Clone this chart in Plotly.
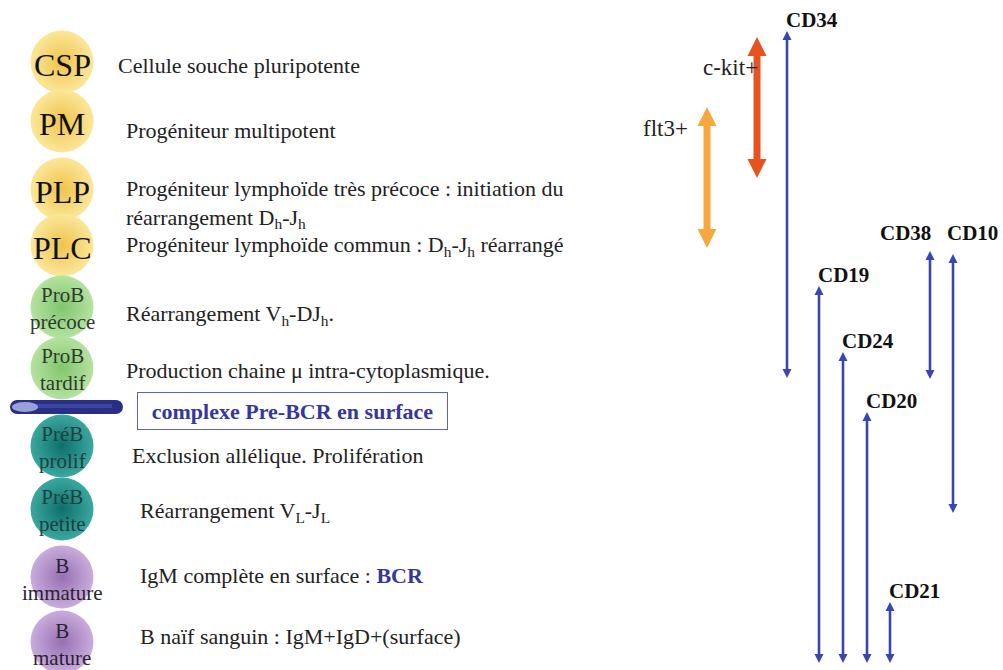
import plotly.graph_objects as go

# ---------------- data ----------------
stage_names = ["CSP", "PM", "PLP", "PLC", "ProB<br>précoce", "ProB<br>tardif",
               "PréB<br>prolif", "PréB<br>petite", "B<br>immature", "B<br>mature"]
stage_levels = [62, 121, 189, 245, 307, 368, 446, 509, 577, 642]
stage_groups = ["prog", "prog", "prog", "prog", "prob", "prob", "preb", "preb", "b", "b"]
stage_descriptions = [
    "Cellule souche pluripotente",
    "Progéniteur multipotent",
    "Progéniteur lymphoïde très précoce : initiation du<br>réarrangement D<sub>h</sub>-J<sub>h</sub>",
    "Progéniteur lymphoïde commun : D<sub>h</sub>-J<sub>h</sub> réarrangé",
    "Réarrangement V<sub>h</sub>-DJ<sub>h</sub>.",
    "Production chaine μ intra-cytoplasmique.",
    "Exclusion allélique. Prolifération",
    "Réarrangement V<sub>L</sub>-J<sub>L</sub>",
    "IgM complète en surface : <span style='color:#35379a'><b>BCR</b></span>",
    "B naïf sanguin : IgM+IgD+(surface)",
]
checkpoint_label = "complexe Pre-BCR en surface"
checkpoint_level = 407

marker_names = ["c-kit+", "flt3+", "CD34", "CD19", "CD24", "CD20", "CD21", "CD38", "CD10"]
marker_start = [37, 107, 31, 286, 352, 412, 602, 251, 254]
marker_end = [178, 248, 378, 663, 663, 663, 663, 379, 513]
marker_kind = ["ckit", "flt3", "cd", "cd", "cd", "cd", "cd", "cd", "cd"]

# ---------------- styles ----------------
lane_x = [757, 707, 787, 819, 843, 867, 890, 930, 953]
desc_x = [116, 124, 124, 124, 124, 124, 130, 138, 138, 138]
desc_offset = [3, 9, 15, 1, 8, 2, 9, 3, -2, -6]
group_fill = {"prog": ("#fbe79a", "#efc34c"), "prob": ("#b5e2a0", "#80c66d"),
              "preb": ("#3aa8a0", "#0f6f6a"), "b": ("#c9acdc", "#9670b2")}
group_font = {"prog": (32, "#111111", 3), "prob": (21, "#2f3a2f", 1),
              "preb": (21, "#1d3f3e", 1), "b": (21, "#2a2230", 2)}
# colour, line width, head size (px)
arrow_style = {"ckit": ("#e8521f", 7, 19), "flt3": ("#f6a83e", 7, 19),
               "cd": ("#3a46b0", 2.6, 9)}
SERIF = "Liberation Serif, Times New Roman, serif"
TXT = "#222222"
DESC_SIZE = 22

fig = go.Figure()

# cells
for grp in ["prog", "prob", "preb", "b"]:
    idx = [i for i, g in enumerate(stage_groups) if g == grp]
    inner, outer = group_fill[grp]
    fig.add_trace(go.Scatter(
        x=[62] * len(idx), y=[stage_levels[i] for i in idx], mode="markers",
        marker=dict(size=63, color=inner, line=dict(width=0),
                    gradient=dict(type="radial", color=outer)),
        hoverinfo="skip", showlegend=False, cliponaxis=False))
for i, nm in enumerate(stage_names):
    fsize, fcol, off = group_font[stage_groups[i]]
    fig.add_annotation(x=62, y=stage_levels[i] + off, text=nm, showarrow=False,
                       xanchor="center", yanchor="middle", align="center",
                       font=dict(family=SERIF, size=fsize, color=fcol))

# descriptions
for i, d in enumerate(stage_descriptions):
    fig.add_annotation(x=desc_x[i], y=stage_levels[i] + desc_offset[i],
                       text=d, showarrow=False,
                       xanchor="left", yanchor="middle", align="left",
                       font=dict(family=SERIF, size=DESC_SIZE, color=TXT))

# pre-BCR bar
y0 = checkpoint_level
fig.add_shape(type="rect", x0=17, x1=116, y0=y0 - 7, y1=y0 + 7,
              fillcolor="#2a2f86", line=dict(width=0))
fig.add_shape(type="circle", x0=10, x1=24, y0=y0 - 7, y1=y0 + 7,
              fillcolor="#2a2f86", line=dict(width=0))
fig.add_shape(type="circle", x0=109, x1=123, y0=y0 - 7, y1=y0 + 7,
              fillcolor="#2a2f86", line=dict(width=0))
fig.add_shape(type="rect", x0=30, x1=112, y0=y0 - 3, y1=y0 + 1,
              fillcolor="#4a55b8", line=dict(width=0), opacity=0.6)
fig.add_shape(type="circle", x0=12, x1=38, y0=y0 - 5, y1=y0 + 5,
              fillcolor="#9aa0da", line=dict(width=0))
fig.add_annotation(x=137, y=y0 + 4, text="<b>" + checkpoint_label + "</b>",
                   showarrow=False, xanchor="left", yanchor="middle",
                   width=303, height=30, borderpad=3, borderwidth=1,
                   bordercolor="#5a63c4", bgcolor="white",
                   font=dict(family=SERIF, size=DESC_SIZE, color="#35379a"))

# marker arrows (double-headed): shaft line + arrow-up / arrow-down heads
for i, name in enumerate(marker_names):
    col, w, hs = arrow_style[marker_kind[i]]
    x = lane_x[i]
    top, bot = marker_start[i], marker_end[i]
    fig.add_trace(go.Scatter(x=[x, x], y=[top + hs * 0.6, bot - hs * 0.6], mode="lines",
                             line=dict(color=col, width=w), hoverinfo="skip",
                             showlegend=False, cliponaxis=False))
    fig.add_trace(go.Scatter(x=[x, x], y=[top, bot], mode="markers",
                             marker=dict(symbol=["arrow-up", "arrow-down"], size=hs,
                                         color=col, line=dict(width=0)),
                             hoverinfo="skip", showlegend=False, cliponaxis=False))
    if marker_kind[i] == "cd":
        if name == "CD38":
            lx, anc, ly = x + 3, "right", 233
        elif name == "CD10":
            lx, anc, ly = x - 8, "left", 233
        else:
            lx, anc, ly = x - 3, "left", top - 11
        fig.add_annotation(x=lx, y=ly, text="<b>" + name + "</b>", showarrow=False,
                           xanchor=anc, yanchor="middle",
                           font=dict(family=SERIF, size=21, color="#111111"))
    elif name == "c-kit+":
        fig.add_annotation(x=x + 3, y=top + 30, text=name,
                           showarrow=False, xanchor="right", yanchor="middle",
                           font=dict(family=SERIF, size=23, color=TXT))
    else:
        fig.add_annotation(x=x - 17, y=top + 21, text=name,
                           showarrow=False, xanchor="right", yanchor="middle",
                           font=dict(family=SERIF, size=23, color=TXT))

fig.update_layout(
    width=1003, height=670, margin=dict(l=0, r=0, t=0, b=0),
    paper_bgcolor="white", plot_bgcolor="white",
    xaxis=dict(range=[0, 1003], visible=False, fixedrange=True),
    yaxis=dict(range=[670, 0], visible=False, fixedrange=True),
    showlegend=False, hovermode=False)

fig.write_html("out.html", config={"displayModeBar": False},
               post_script="document.body.style.margin='0';")
